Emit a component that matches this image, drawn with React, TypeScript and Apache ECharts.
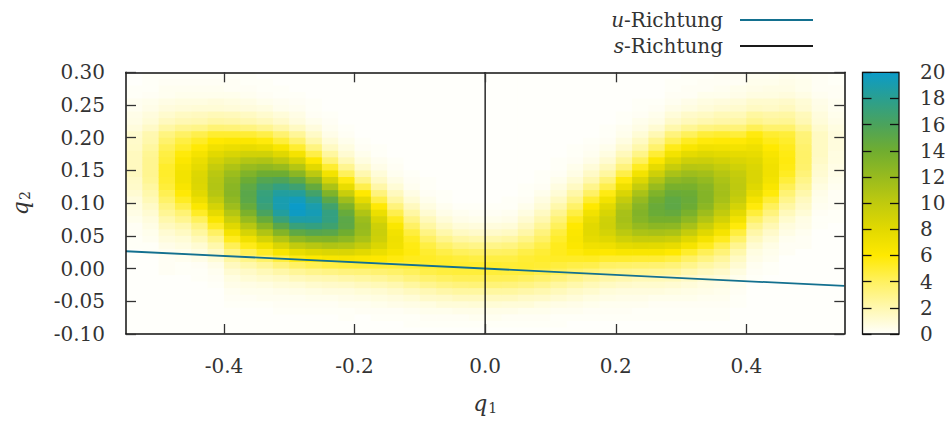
import React, { useEffect, useRef } from "react";
import * as echarts from "echarts";

// Cell centres of the density grid
const q1Centers = [
  -0.5375, -0.5125, -0.4875, -0.4625, -0.4375, -0.4125, -0.3875, -0.3625, -0.3375, -0.3125, -0.2875,
  -0.2625, -0.2375, -0.2125, -0.1875, -0.1625, -0.1375, -0.1125, -0.0875, -0.0625, -0.0375, -0.0125,
  0.0125, 0.0375, 0.0625, 0.0875, 0.1125, 0.1375, 0.1625, 0.1875, 0.2125, 0.2375, 0.2625,
  0.2875, 0.3125, 0.3375, 0.3625, 0.3875, 0.4125, 0.4375, 0.4625, 0.4875, 0.5125, 0.5375,
];
const q2Centers = [
  0.295, 0.285, 0.275, 0.265, 0.255, 0.245, 0.235, 0.225, 0.215, 0.205,
  0.195, 0.185, 0.175, 0.165, 0.155, 0.145, 0.135, 0.125, 0.115, 0.105,
  0.095, 0.085, 0.075, 0.065, 0.055, 0.045, 0.035, 0.025, 0.015, 0.005,
  -0.005, -0.015, -0.025, -0.035, -0.045, -0.055, -0.065, -0.075, -0.085, -0.095,
];

// Density: one column per q1 centre, values from top (q2 = 0.295) to bottom
const densityColumns: number[][] = [
  [0,0,0.1,0.1,0.3,0.3,0.5,0.6,0.8,1.2, 1.3,1.4,1.6,1.6,1.6,1.6,1.4,1.3,1.1,0.8, 0.7,0.6,0.4,0.2,0.2,0.1,0.1,0,0,0, 0,0,0,0,0,0,0,0,0,0],
  [0.1,0.1,0.1,0.2,0.4,0.5,0.8,1.0,1.4,2.0, 2.1,2.4,2.7,2.8,2.8,2.8,2.7,2.4,2.1,1.8, 1.4,1.1,0.8,0.6,0.4,0.3,0.1,0.1,0,0, 0,0,0,0,0,0,0,0,0,0],
  [0.1,0.2,0.3,0.3,0.6,0.8,1.2,1.6,2.3,3.2, 3.7,4.2,4.6,4.8,5.1,5.1,5.0,4.8,4.3,3.8, 3.2,2.7,2.1,1.6,1.1,0.8,0.5,0.3,0.2,0.2, 0.2,0,0,0,0,0,0,0,0,0],
  [0.1,0.2,0.3,0.4,0.7,0.9,1.5,1.9,2.8,3.9, 4.6,5.1,5.8,6.2,6.6,6.8,6.8,6.5,5.9,5.3, 4.5,3.5,2.8,2.0,1.5,1.0,0.7,0.4,0.3,0.1, 0.1,0,0,0,0,0,0,0,0,0],
  [0.1,0.2,0.3,0.4,0.7,1.0,1.6,2.0,3.0,4.4, 5.2,5.9,6.7,7.4,7.8,8.3,8.4,8.3,8.0,7.2, 6.3,5.2,4.1,3.1,2.4,1.7,1.1,0.7,0.5,0.2, 0.1,0.1,0,0,0,0,0,0,0,0],
  [0.1,0.2,0.3,0.4,0.8,1.0,1.8,2.3,3.5,5.0, 6.0,7.0,8.0,8.9,9.7,10.3,10.6,10.7,10.5,9.8, 8.8,7.7,6.4,5.2,3.9,2.9,2.1,1.4,1.0,0.5, 0.3,0.2,0.1,0,0,0,0,0,0,0],
  [0.1,0.2,0.2,0.4,0.7,0.9,1.7,2.2,3.4,5.0, 6.2,7.4,8.6,9.8,10.9,11.8,12.4,12.7,12.8,12.4, 11.7,10.6,9.4,8.1,6.7,5.4,4.2,3.1,2.3,1.6, 1.1,0.7,0.5,0.3,0.2,0.1,0,0,0,0],
  [0.1,0.1,0.2,0.3,0.6,0.8,1.5,2.0,3.2,4.9, 6.2,7.6,9.0,10.6,12.0,13.2,14.2,14.9,15.2,15.1, 14.5,13.4,12.0,10.4,8.7,7.0,5.5,4.2,3.0,2.1, 1.4,1.0,0.6,0.4,0.2,0.1,0,0,0,0],
  [0,0.1,0.1,0.2,0.4,0.7,1.2,1.7,2.8,4.5, 5.8,7.3,9.0,10.8,12.4,14.1,15.5,16.5,17.2,17.4, 17.0,16.1,14.5,12.7,10.8,8.8,6.8,5.2,3.8,2.6, 1.8,1.2,0.7,0.4,0.3,0.1,0,0,0,0],
  [0,0,0.1,0.1,0.3,0.4,0.9,1.3,2.2,3.6, 4.8,6.4,8.1,10.0,12.0,14.1,15.8,17.4,18.5,19.1, 19.1,18.5,17.1,15.2,13.0,10.7,8.5,6.4,4.7,3.3, 2.2,1.4,0.9,0.5,0.3,0.2,0.1,0,0,0],
  [0,0,0,0.1,0.2,0.3,0.6,0.8,1.5,2.6, 3.7,5.0,6.7,8.6,10.6,12.7,14.9,16.8,18.4,19.5, 20.0,19.8,18.8,17.1,14.9,12.4,9.9,7.5,5.6,3.9, 2.6,1.7,1.0,0.6,0.3,0.2,0.1,0,0,0],
  [0,0,0,0,0.1,0.1,0.2,0.4,0.8,1.4, 2.1,3.2,4.5,6.1,8.0,10.2,12.4,14.6,16.5,18.0, 19.0,19.3,18.8,17.4,15.4,13.0,10.4,8.1,6.0,4.3, 2.9,1.9,1.2,0.7,0.4,0.2,0.1,0,0,0],
  [0,0,0,0,0,0,0.1,0.2,0.3,0.5, 0.9,1.5,2.4,3.5,5.0,6.8,8.8,11.0,13.2,15.1, 16.6,17.4,17.4,16.7,15.2,13.1,10.8,8.4,6.4,4.6, 3.1,2.0,1.3,0.8,0.4,0.2,0.1,0,0,0],
  [0,0,0,0,0,0,0,0,0.1,0.2, 0.4,0.7,1.1,1.8,2.8,4.1,5.7,7.5,9.5,11.6, 13.3,14.5,15.1,15.0,14.0,12.5,10.6,8.5,6.5,4.7, 3.3,2.2,1.4,0.8,0.5,0.3,0.1,0.1,0,0],
  [0,0,0,0,0,0,0,0,0,0, 0.1,0.2,0.4,0.7,1.2,2.0,3.0,4.4,6.0,7.7, 9.4,10.8,11.8,12.1,11.9,11.1,9.7,8.0,6.3,4.8, 3.4,2.4,1.6,1.0,0.6,0.3,0.2,0,0,0],
  [0,0,0,0,0,0,0,0,0,0, 0,0.1,0.1,0.3,0.5,0.9,1.4,2.2,3.3,4.5, 5.9,7.3,8.4,9.2,9.4,9.2,8.4,7.3,6.1,4.8, 3.6,2.6,1.8,1.1,0.7,0.4,0.2,0.1,0,0],
  [0,0,0,0,0,0,0,0,0,0, 0,0,0,0.1,0.2,0.3,0.6,1.0,1.6,2.3, 3.3,4.4,5.4,6.3,6.9,7.1,7.0,6.5,5.7,4.8, 3.8,2.9,2.0,1.3,0.8,0.5,0.2,0.1,0,0],
  [0,0,0,0,0,0,0,0,0,0, 0,0,0,0,0,0.1,0.2,0.3,0.6,1.0, 1.6,2.3,3.1,3.9,4.7,5.3,5.6,5.7,5.4,4.9, 4.1,3.3,2.4,1.6,1.0,0.6,0.3,0.1,0.1,0],
  [0,0,0,0,0,0,0,0,0,0, 0,0,0,0,0,0,0.1,0.1,0.2,0.4, 0.7,1.1,1.7,2.3,3.1,3.9,4.6,5.0,5.2,5.0, 4.5,3.7,2.8,1.9,1.3,0.7,0.4,0.2,0.1,0],
  [0,0,0,0,0,0,0,0,0,0, 0,0,0,0,0,0,0,0,0.1,0.1, 0.3,0.5,0.9,1.4,2.1,2.9,3.8,4.5,5.0,5.1, 4.7,4.0,3.1,2.2,1.4,0.9,0.4,0.2,0.1,0],
  [0,0,0,0,0,0,0,0,0,0, 0,0,0,0,0,0,0,0,0,0, 0.1,0.3,0.5,0.9,1.5,2.3,3.2,4.1,4.8,5.0, 4.8,4.2,3.3,2.4,1.6,0.9,0.5,0.2,0.1,0],
  [0,0,0,0,0,0,0,0,0,0, 0,0,0,0,0,0,0,0,0,0, 0.1,0.2,0.4,0.8,1.3,2.1,3.0,3.9,4.6,5.0, 4.8,4.2,3.4,2.4,1.6,1.0,0.5,0.3,0.1,0],
  [0,0,0,0,0,0,0,0,0,0, 0,0,0,0,0,0,0,0,0,0, 0.1,0.2,0.4,0.8,1.3,2.1,3.0,3.9,4.6,5.0, 4.8,4.2,3.4,2.4,1.6,1.0,0.5,0.3,0.1,0],
  [0,0,0,0,0,0,0,0,0,0, 0,0,0,0,0,0,0,0,0,0.1, 0.1,0.3,0.5,0.9,1.5,2.3,3.2,4.0,4.6,4.9, 4.7,4.2,3.3,2.4,1.6,0.9,0.5,0.2,0.1,0],
  [0,0,0,0,0,0,0,0,0,0, 0,0,0,0,0,0,0,0.1,0.1,0.2, 0.4,0.7,1.1,1.6,2.2,3.0,3.8,4.5,4.9,5.0, 4.7,4.0,3.1,2.2,1.4,0.9,0.4,0.2,0.1,0],
  [0,0,0,0,0,0,0,0,0,0, 0,0,0,0,0,0.1,0.1,0.2,0.4,0.7, 1.0,1.5,2.0,2.6,3.3,3.9,4.5,4.9,5.1,4.9, 4.4,3.7,2.8,2.0,1.3,0.7,0.4,0.2,0.1,0],
  [0,0,0,0,0,0,0,0,0,0, 0,0,0,0.1,0.1,0.2,0.4,0.7,1.0,1.5, 2.1,2.8,3.5,4.1,4.7,5.1,5.4,5.4,5.2,4.7, 4.1,3.3,2.4,1.7,1.1,0.6,0.3,0.1,0.1,0],
  [0,0,0,0,0,0,0,0,0,0, 0,0.1,0.1,0.2,0.4,0.6,1.0,1.5,2.2,2.9, 3.8,4.6,5.4,6.0,6.3,6.4,6.2,5.8,5.2,4.5, 3.7,2.9,2.1,1.4,0.9,0.5,0.3,0.1,0,0],
  [0,0,0,0,0,0,0,0,0,0, 0.1,0.2,0.3,0.5,0.9,1.4,2.0,2.9,3.9,5.0, 6.0,6.9,7.6,8.0,8.0,7.7,7.0,6.3,5.3,4.4, 3.4,2.5,1.8,1.2,0.7,0.4,0.2,0.1,0,0],
  [0,0,0,0,0,0,0,0,0.1,0.1, 0.2,0.4,0.7,1.1,1.7,2.4,3.4,4.4,5.6,6.8, 7.9,8.6,9.1,9.2,8.8,8.1,7.1,6.1,5.0,3.9, 3.0,2.2,1.5,0.9,0.6,0.3,0.2,0.1,0,0],
  [0,0,0,0,0,0,0.1,0.1,0.3,0.4, 0.7,1.1,1.7,2.4,3.3,4.5,5.8,7.1,8.5,9.7, 10.6,11.2,11.3,11.0,10.2,9.1,7.8,6.4,5.0,3.8, 2.8,2.0,1.3,0.8,0.5,0.3,0.2,0.1,0,0],
  [0,0,0,0,0.1,0.1,0.2,0.4,0.6,1.0, 1.5,2.1,3.0,4.1,5.3,6.8,8.3,9.7,11.1,12.1, 12.8,13.1,12.9,12.1,11.0,9.6,8.0,6.4,4.9,3.7, 2.7,1.8,1.2,0.8,0.5,0.3,0.1,0.1,0,0],
  [0,0,0,0,0.1,0.2,0.4,0.6,1.1,1.9, 2.8,3.7,4.9,6.2,7.7,9.2,10.7,12.0,13.2,14.0, 14.4,14.3,13.7,12.6,11.2,9.6,7.9,6.4,4.9,3.6, 2.6,1.8,1.2,0.8,0.4,0.2,0.1,0.1,0,0],
  [0,0.1,0.1,0.2,0.3,0.5,0.9,1.3,2.1,3.3, 4.3,5.5,6.8,8.2,9.6,11.1,12.5,13.6,14.4,14.9, 15.0,14.6,13.7,12.5,11.0,9.3,7.6,6.0,4.6,3.4, 2.5,1.7,1.1,0.7,0.4,0.2,0.1,0.1,0,0],
  [0.1,0.1,0.2,0.2,0.5,0.7,1.3,1.7,2.7,4.1, 5.3,6.4,7.8,9.2,10.5,11.7,12.8,13.6,14.2,14.4, 14.2,13.5,12.5,11.2,9.7,8.1,6.6,5.1,3.9,2.9, 2.0,1.4,0.9,0.6,0.4,0.2,0.1,0.1,0,0],
  [0.1,0.2,0.2,0.4,0.7,0.9,1.5,2.0,3.2,4.8, 5.8,7.0,8.2,9.3,10.4,11.4,12.2,12.8,13.0,13.0, 12.6,11.7,10.7,9.4,8.1,6.7,5.4,4.2,3.2,2.3, 1.6,1.1,0.7,0.5,0.3,0.2,0.1,0.1,0,0],
  [0.2,0.2,0.3,0.4,0.8,1.1,1.8,2.2,3.4,5.0, 5.9,6.9,7.9,8.9,9.8,10.5,11.0,11.3,11.4,11.2, 10.6,9.9,8.9,7.7,6.6,5.4,4.3,3.4,2.5,1.9, 1.3,0.9,0.6,0.4,0.3,0.2,0.1,0.1,0,0],
  [0.2,0.2,0.4,0.5,0.9,1.2,1.8,2.3,3.4,4.8, 5.9,6.8,7.7,8.5,9.1,9.7,10.0,10.1,10.0,9.6, 8.8,7.9,6.9,5.8,4.7,3.8,2.8,2.1,1.5,1.1, 0.7,0.4,0.3,0.2,0.1,0.1,0,0,0,0],
  [0.3,0.4,0.5,0.7,1.2,1.5,2.4,2.9,4.2,5.7, 6.4,7.1,7.6,8.1,8.4,8.5,8.5,8.2,7.6,6.7, 5.8,4.8,3.8,2.9,2.2,1.6,1.1,0.7,0.5,0.3, 0.2,0.1,0,0,0,0,0,0,0,0],
  [0.3,0.4,0.6,0.7,1.2,1.4,2.2,2.6,3.7,5.0, 5.5,6.0,6.5,6.8,7.0,7.0,6.8,6.4,5.8,4.9, 4.1,3.3,2.5,1.9,1.3,0.9,0.6,0.4,0.3,0.1, 0.1,0,0,0,0,0,0,0,0,0],
  [0.4,0.5,0.6,0.8,1.3,1.6,2.3,2.7,3.7,4.8, 5.1,5.4,5.6,5.7,5.6,5.3,4.8,4.2,3.5,2.9, 2.3,1.7,1.2,0.8,0.6,0.3,0.2,0.2,0,0, 0,0,0,0,0,0,0,0,0,0],
  [0.3,0.4,0.4,0.6,1.0,1.1,1.7,1.9,2.6,3.4, 3.5,3.7,3.8,3.8,3.7,3.4,3.0,2.6,2.1,1.6, 1.3,1.0,0.6,0.5,0.3,0.2,0.2,0,0,0, 0,0,0,0,0,0,0,0,0,0],
  [0.2,0.2,0.2,0.3,0.5,0.6,0.8,0.9,1.2,1.5, 1.5,1.5,1.5,1.4,1.2,1.1,0.9,0.7,0.5,0.4, 0.3,0.2,0.1,0.1,0,0,0,0,0,0, 0,0,0,0,0,0,0,0,0,0],
  [0.1,0.1,0.2,0.2,0.3,0.3,0.4,0.5,0.7,0.8, 0.8,0.8,0.7,0.7,0.6,0.5,0.4,0.3,0.2,0.2, 0.2,0.1,0.1,0,0,0,0,0,0,0, 0,0,0,0,0,0,0,0,0,0],
];

const q1Ticks = [-0.4, -0.2, 0, 0.2, 0.4];
const colorTicks = [0, 2, 4, 6, 8, 10, 12, 14, 16, 18, 20];
const palette = [
  "#fffffb", "#fff8b0", "#fff160", "#ffe900", "#e2d900", "#c0ca0e",
  "#98bb1e", "#70ad30", "#4ba35c", "#2a9f90", "#0b9bc9",
];
const uLine = [[-0.55, 0.0265], [0.55, -0.0265]];
const sLine = [[0, -0.1], [0, 0.3]];
const seriesNames = ["u-Richtung", "s-Richtung"];

const FONT = "'DejaVu Serif', 'Liberation Serif', serif";
const TEXT = "#333";

export default function App() {
  const ref = useRef<HTMLDivElement>(null);

  useEffect(() => {
    document.body.style.margin = "0";
    const el = ref.current;
    if (!el) return;
    const chart = echarts.init(el, undefined, { renderer: "svg" });

    const cellW = q1Centers[1] - q1Centers[0];
    const cellH = q2Centers[0] - q2Centers[1];
    const heatData: number[][] = [];
    densityColumns.forEach((col, c) => {
      col.forEach((v, r) => {
        heatData.push([q1Centers[c], q2Centers[r], v]);
      });
    });

    const nameRich = {
      i: { fontFamily: FONT, fontStyle: "italic", fontSize: 22, color: TEXT },
      s: { fontFamily: FONT, fontSize: 14, color: TEXT, padding: [9, 0, 0, 1] },
    };
    const labelStyle = { fontFamily: FONT, fontSize: 20, color: TEXT };
    const frameLine = { show: true, onZero: false, lineStyle: { color: "#111", width: 1.5 } };
    const tickStyle = { color: "#333", width: 1.3 };

    const option: any = {
      animation: false,
      backgroundColor: "#ffffff",
      grid: [
        { left: 126, top: 72.3, width: 718.3, height: 261.7, outerBoundsMode: "none" },
        { left: 862.5, top: 72.3, width: 36.5, height: 261.7, outerBoundsMode: "none" },
      ],
      legend: {
        data: seriesNames,
        orient: "vertical",
        right: 139,
        top: 10,
        padding: 0,
        align: "right",
        icon: "rect",
        itemWidth: 73,
        itemHeight: 2,
        itemGap: 6,
        selectedMode: false,
        formatter: (name: string) => {
          const k = name.indexOf("-");
          return `{i|${name.slice(0, k)}}{n|${name.slice(k)}}{g|}`;
        },
        textStyle: {
          rich: {
            i: { fontFamily: FONT, fontStyle: "italic", fontSize: 20, color: TEXT, lineHeight: 20 },
            n: { fontFamily: FONT, fontSize: 20, color: TEXT, lineHeight: 20 },
            g: { width: 12 },
          },
        },
      },
      visualMap: {
        type: "continuous",
        show: false,
        min: colorTicks[0],
        max: colorTicks[colorTicks.length - 1],
        seriesIndex: 0,
        dimension: 2,
        inRange: { color: palette },
      },
      xAxis: [
        {
          gridIndex: 0,
          type: "value",
          min: -0.55,
          max: 0.55,
          position: "bottom",
          z: 10,
          axisLine: frameLine,
          axisTick: { show: true, inside: true, length: 10, lineStyle: tickStyle, customValues: q1Ticks },
          axisLabel: {
            ...labelStyle,
            customValues: q1Ticks,
            margin: 22,
            formatter: (v: number) => v.toFixed(1),
          },
          splitLine: { show: false },
          name: "{i|q}{s|1}",
          nameLocation: "middle",
          nameGap: 58,
          nameTextStyle: { rich: nameRich },
        },
        {
          gridIndex: 0,
          type: "value",
          min: -0.55,
          max: 0.55,
          position: "top",
          z: 10,
          axisLine: frameLine,
          axisTick: { show: true, inside: true, length: 10, lineStyle: tickStyle, customValues: q1Ticks },
          axisLabel: { show: false },
          splitLine: { show: false },
        },
        { gridIndex: 1, type: "value", min: 0, max: 1, show: false },
      ],
      yAxis: [
        {
          gridIndex: 0,
          type: "value",
          min: -0.1,
          max: 0.3,
          interval: 0.05,
          position: "left",
          z: 10,
          axisLine: frameLine,
          axisTick: { show: true, inside: true, length: 10, lineStyle: tickStyle },
          axisLabel: { ...labelStyle, margin: 21, formatter: (v: number) => v.toFixed(2) },
          splitLine: { show: false },
          name: "{i|q}{s|2}",
          nameLocation: "middle",
          nameRotate: 90,
          nameGap: 94,
          nameTextStyle: { rich: nameRich },
        },
        {
          gridIndex: 0,
          type: "value",
          min: -0.1,
          max: 0.3,
          interval: 0.05,
          position: "right",
          z: 10,
          axisLine: frameLine,
          axisTick: { show: true, inside: true, length: 10, lineStyle: tickStyle },
          axisLabel: { show: false },
          splitLine: { show: false },
        },
        {
          gridIndex: 1,
          type: "value",
          min: colorTicks[0],
          max: colorTicks[colorTicks.length - 1],
          interval: 2,
          position: "right",
          z: 10,
          axisLine: { show: false, onZero: false },
          axisTick: { show: true, inside: true, length: 9, lineStyle: { color: "#111", width: 1.3 } },
          axisLabel: { ...labelStyle, margin: 21 },
          splitLine: { show: false },
        },
        {
          gridIndex: 1,
          type: "value",
          min: colorTicks[0],
          max: colorTicks[colorTicks.length - 1],
          interval: 2,
          position: "left",
          z: 10,
          axisLine: { show: false, onZero: false },
          axisTick: { show: true, inside: true, length: 9, lineStyle: { color: "#111", width: 1.3 } },
          axisLabel: { show: false },
          splitLine: { show: false },
        },
      ],
      series: [
        {
          type: "custom",
          xAxisIndex: 0,
          yAxisIndex: 0,
          silent: true,
          z: 1,
          encode: { x: 0, y: 1 },
          data: heatData,
          renderItem: (params: any, api: any) => {
            const x = api.value(0);
            const y = api.value(1);
            const a = api.coord([x - cellW / 2, y + cellH / 2]);
            const b = api.coord([x + cellW / 2, y - cellH / 2]);
            return {
              type: "rect",
              shape: { x: a[0], y: a[1], width: b[0] - a[0] + 0.7, height: b[1] - a[1] + 0.7 },
              style: { fill: api.visual("color") },
            };
          },
        },
        {
          type: "line",
          name: seriesNames[0],
          xAxisIndex: 0,
          yAxisIndex: 0,
          data: uLine,
          symbol: "none",
          silent: true,
          z: 3,
          lineStyle: { color: "#13708f", width: 1.8 },
          itemStyle: { color: "#13708f" },
        },
        {
          type: "line",
          name: seriesNames[1],
          xAxisIndex: 0,
          yAxisIndex: 0,
          data: sLine,
          symbol: "none",
          silent: true,
          z: 3,
          lineStyle: { color: "#1a1a1a", width: 1.4 },
          itemStyle: { color: "#1a1a1a" },
        },
        {
          type: "custom",
          xAxisIndex: 2,
          yAxisIndex: 2,
          silent: true,
          z: 1,
          data: [[0]],
          renderItem: (params: any, api: any) => {
            const top = api.coord([0, colorTicks[colorTicks.length - 1]]);
            const bot = api.coord([1, colorTicks[0]]);
            const stops = palette
              .map((c, k) => ({ offset: 1 - k / (palette.length - 1), color: c }))
              .reverse();
            return {
              type: "rect",
              shape: { x: top[0], y: top[1], width: bot[0] - top[0], height: bot[1] - top[1] },
              style: {
                fill: new echarts.graphic.LinearGradient(0, 0, 0, 1, stops),
                stroke: "#111",
                lineWidth: 1.3,
              },
            };
          },
        },
      ],
    };

    chart.setOption(option);
    return () => chart.dispose();
  }, []);

  return <div ref={ref} style={{ width: 952, height: 423 }} />;
}
